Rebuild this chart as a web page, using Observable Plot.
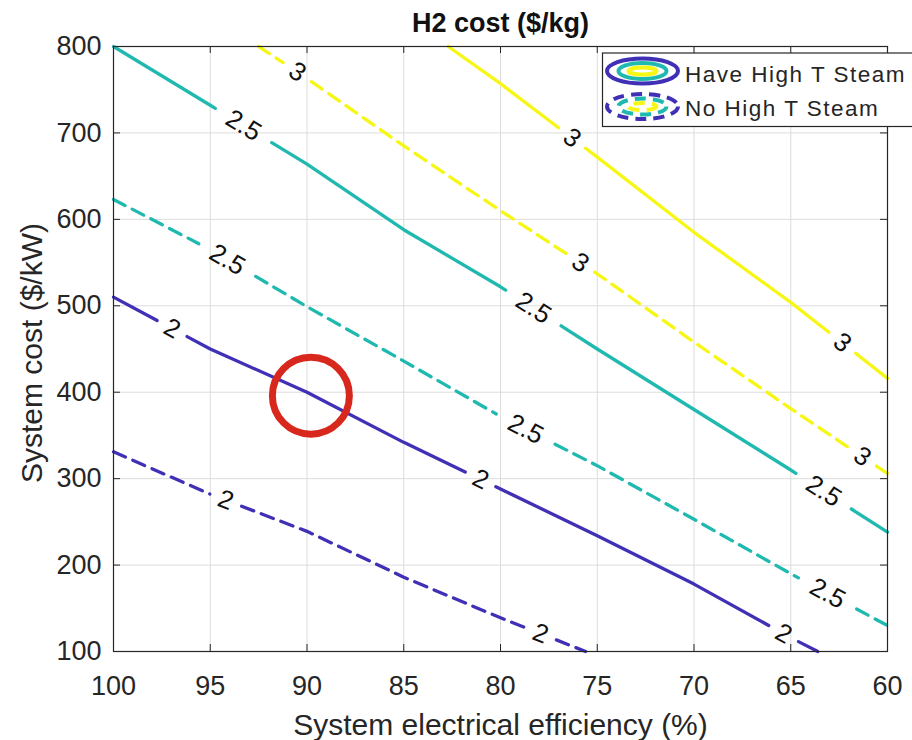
<!DOCTYPE html>
<html><head><meta charset="utf-8">
<script src="https://cdn.jsdelivr.net/npm/d3@7"></script>
<script src="https://cdn.jsdelivr.net/npm/@observablehq/plot@0.6"></script>
<style>
html,body{margin:0;padding:0;background:#fff;}
#chart{width:912px;height:740px;overflow:hidden;}
</style></head><body><div id="chart"></div>
<script>
// ---------- data ----------
const titleText = "H2 cost ($/kg)";
const xLabelText = "System electrical efficiency (%)";
const yLabelText = "System cost ($/kW)";
const xTicks = [100, 95, 90, 85, 80, 75, 70, 65, 60];
const yTicks = [100, 200, 300, 400, 500, 600, 700, 800];
const levels = [2, 2.5, 3];
const levelColors = ["#4030b6", "#1fb9b0", "#f6f714"];
const steamCases = ["Have High T Steam", "No High T Steam"];

// contour H2 cost = 2 / 2.5 / 3 $/kg, with high-T steam (solid)
const haveEff2 = [100, 95, 90, 85, 80, 75, 70, 65, 63.6];
const haveCost2 = [510, 450, 400, 342, 288, 234, 178, 116, 100];
const haveEff25 = [100, 95, 90, 85, 80, 75, 70, 65, 60];
const haveCost25 = [800, 732, 664, 588, 522, 450, 380, 310, 238];
const haveEff3 = [82.7, 80, 75, 70, 65, 60];
const haveCost3 = [800, 757, 672, 585, 504, 416];
// without high-T steam (dashed)
const noEff2 = [100, 95, 90, 85, 80, 75.6];
const noCost2 = [331, 282, 239, 186, 139, 100];
const noEff25 = [100, 95, 90, 85, 80, 75, 70, 65, 60];
const noCost25 = [623, 565, 499, 436, 372, 315, 253, 190, 130];
const noEff3 = [92.5, 90, 85, 80, 75, 70, 65, 60];
const noCost3 = [800, 763, 685, 610, 537, 458, 381, 306];

// in-line contour labels: which contour, at which efficiency
const labelSeries = ["have-2","have-2","have-2","have-2.5","have-2.5","have-2.5","have-3","have-3",
                     "no-2","no-2","no-2.5","no-2.5","no-2.5","no-3","no-3","no-3"];
const labelEff = [96.97, 81.03, 65.37, 93.28, 78.3, 63.3, 76.3, 62.34,
                  94.2, 77.93, 94.12, 78.7, 63.1, 90.5, 75.87, 61.3];

// highlighted design point (red circle)
const markEff = [89.8];
const markCost = [396];

// ---------- build ----------
const W = 912, H = 740, mL = 113, mR = 25, mT = 46, mB = 89;
const pw = W - mL - mR, ph = H - mT - mB;
const kx = pw / 40, ky = ph / 700; // px per data unit (label orientation / gaps)
const FONT = "'Liberation Sans', Arial, Helvetica, sans-serif";

const series = [
  {id: "have-2", steam: steamCases[0], level: levels[0], eff: haveEff2, cost: haveCost2},
  {id: "have-2.5", steam: steamCases[0], level: levels[1], eff: haveEff25, cost: haveCost25},
  {id: "have-3", steam: steamCases[0], level: levels[2], eff: haveEff3, cost: haveCost3},
  {id: "no-2", steam: steamCases[1], level: levels[0], eff: noEff2, cost: noCost2},
  {id: "no-2.5", steam: steamCases[1], level: levels[1], eff: noEff25, cost: noCost25},
  {id: "no-3", steam: steamCases[1], level: levels[2], eff: noEff3, cost: noCost3}
];
const byId = new Map(series.map(s => [s.id, s]));

function segIndex(s, e) {
  let j = 0;
  while (j < s.eff.length - 2 && e < s.eff[j + 1]) j++;
  return j;
}
function interp(s, e) {
  const j = segIndex(s, e);
  const t = (e - s.eff[j]) / (s.eff[j + 1] - s.eff[j]);
  return s.cost[j] + t * (s.cost[j + 1] - s.cost[j]);
}
function angleAt(s, e) {
  const j = segIndex(s, e);
  const dxp = -(s.eff[j + 1] - s.eff[j]) * kx, dyp = -(s.cost[j + 1] - s.cost[j]) * ky;
  return Math.atan2(dyp, dxp);
}

const labels = labelSeries.map((id, i) => {
  const s = byId.get(id), e = labelEff[i];
  const a = angleAt(s, e);
  const text = String(s.level);
  const halfGap = text.length === 1 ? 17 : 33; // px, along the contour
  const h = halfGap * Math.cos(a) / kx;          // in efficiency units
  return {id, eff: e, cost: interp(s, e), text, rotate: a * 180 / Math.PI, lo: e - h, hi: e + h};
});

// break every contour around its labels (as MATLAB clabel does)
const rows = [];
series.forEach(s => {
  const gaps = labels.filter(l => l.id === s.id);
  const first = s.eff[0], last = s.eff[s.eff.length - 1];
  let xs = s.eff.slice();
  gaps.forEach(g => [g.lo, g.hi].forEach(v => { if (v < first && v > last) xs.push(v); }));
  xs = Array.from(new Set(xs)).sort((a, b) => b - a);
  let seg = 0, open = false;
  for (let j = 0; j < xs.length - 1; j++) {
    const m = (xs[j] + xs[j + 1]) / 2;
    const inGap = gaps.some(g => m > g.lo && m < g.hi);
    if (inGap) { if (open) { seg++; open = false; } continue; }
    if (!open) { rows.push({seg: s.id + "#" + seg, steam: s.steam, level: s.level, eff: xs[j], cost: interp(s, xs[j])}); open = true; }
    rows.push({seg: s.id + "#" + seg, steam: s.steam, level: s.level, eff: xs[j + 1], cost: interp(s, xs[j + 1])});
  }
});
const marks = markEff.map((e, i) => ({eff: e, cost: markCost[i]}));

const chart = Plot.plot({
  width: W, height: H,
  marginLeft: mL, marginRight: mR, marginTop: mT, marginBottom: mB,
  x: {domain: [100, 60]},
  y: {domain: [100, 800]},
  color: {type: "ordinal", domain: levels, range: levelColors},
  style: {fontFamily: FONT, color: "#262626", background: "white", overflow: "visible"},
  marks: [
    Plot.gridX(xTicks, {stroke: "#dcdcdc", strokeOpacity: 1}),
    Plot.gridY(yTicks, {stroke: "#dcdcdc", strokeOpacity: 1}),
    Plot.line(rows.filter(d => d.steam === steamCases[0]), {x: "eff", y: "cost", z: "seg", stroke: "level", strokeWidth: 3.3}),
    Plot.line(rows.filter(d => d.steam === steamCases[1]), {x: "eff", y: "cost", z: "seg", stroke: "level", strokeWidth: 3.3, strokeDasharray: "13,8"}),
    Plot.text(labels, {x: "eff", y: "cost", text: "text", rotate: "rotate", fontSize: 26, fill: "#111", ariaLabel: "clabel"}),
    Plot.dot(marks, {x: "eff", y: "cost", r: 38.5, stroke: "#d8281d", strokeWidth: 7, fill: "none"}),
    Plot.frame({stroke: "#262626", strokeWidth: 1.2}),
    Plot.tickX(xTicks, {x: d => d, insetTop: ph - 7, stroke: "#262626"}),
    Plot.tickX(xTicks, {x: d => d, insetBottom: ph - 7, stroke: "#262626"}),
    Plot.tickY(yTicks, {y: d => d, insetRight: pw - 7, stroke: "#262626"}),
    Plot.tickY(yTicks, {y: d => d, insetLeft: pw - 7, stroke: "#262626"}),
    Plot.axisX(xTicks, {tickSize: 0, tickPadding: 24, fontSize: 27, label: null, fill: "#262626"}),
    Plot.axisY(yTicks, {tickSize: 0, tickPadding: 12, fontSize: 27, label: null, fill: "#262626"}),
    Plot.text([xLabelText], {frameAnchor: "bottom", textAnchor: "middle", lineAnchor: "bottom", dy: 83, fontSize: 30, fill: "#262626", ariaLabel: "xlabel"}),
    Plot.text([yLabelText], {frameAnchor: "left", textAnchor: "middle", rotate: -90, dx: -81, dy: 4, fontSize: 30, fill: "#262626", ariaLabel: "ylabel"}),
    Plot.text([titleText], {frameAnchor: "top", textAnchor: "middle", lineAnchor: "bottom", dy: -15, fontSize: 27, fontWeight: "bold", fill: "#111", ariaLabel: "title"})
  ]
});

const svg = d3.select(chart);
svg.selectAll('g[aria-label="title"] text').style("letter-spacing", "1.8px");
svg.selectAll('g[aria-label="xlabel"] text').style("letter-spacing", "0.6px");
svg.selectAll('g[aria-label="ylabel"] text').style("letter-spacing", "1.6px");
svg.selectAll('g[aria-label="clabel"] text').style("letter-spacing", "1.5px");

// ---------- legend (inside the axes, top-right) ----------
const lg = svg.append("g").attr("font-family", FONT).attr("text-anchor", "start");
lg.append("rect").attr("x", 602.5).attr("y", 53).attr("width", 330).attr("height", 73.5)
  .attr("fill", "white").attr("stroke", "#262626").attr("stroke-width", 1.2);
const iconSizes = [[35.5, 12.5], [24, 8], [14, 3.6]];
steamCases.forEach((name, k) => {
  const cy = 71 + k * 35.5;
  levels.forEach((lv, i) => {
    lg.append("ellipse").attr("cx", 642.5).attr("cy", cy)
      .attr("rx", iconSizes[i][0]).attr("ry", iconSizes[i][1])
      .attr("fill", "none").attr("stroke", levelColors[i]).attr("stroke-width", 4)
      .attr("stroke-dasharray", k === 1 ? "11,7" : null);
  });
  lg.append("text").attr("x", 685).attr("y", 81.7 + k * 34).attr("font-size", 22.5)
    .style("letter-spacing", "1.5px").attr("fill", "#262626").text(name);
});

document.getElementById("chart").appendChild(chart);
</script>
</body></html>
